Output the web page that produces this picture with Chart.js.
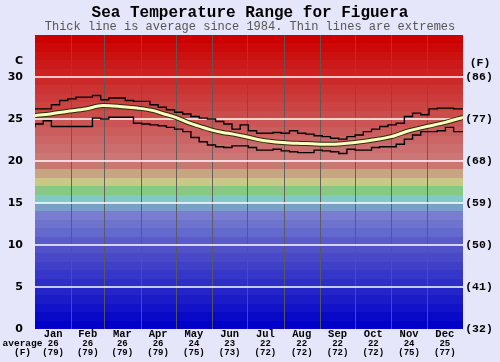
<!DOCTYPE html>
<html><head><meta charset="utf-8">
<script src="https://cdn.jsdelivr.net/npm/chart.js@4/dist/chart.umd.min.js"></script>
<style>html,body{margin:0;padding:0;background:#e6e6fa;}#wrap{width:500px;height:362px;position:relative;}</style>
</head><body><div id="wrap"><canvas id="c"></canvas></div>
<script>
// ---- data ----
const monthNames = ['Jan','Feb','Mar','Apr','May','Jun','Jul','Aug','Sep','Oct','Nov','Dec'];
const monthStartDays = [0,31,59,90,120,151,181,212,243,273,304,334,365];
const monthAvgC = [26,26,26,26,24,23,22,22,22,22,24,25];
const monthAvgF = [79,79,79,79,75,73,72,72,72,72,75,77];
const cTicks = [0,5,10,15,20,25,30];
const fTicks = [32,41,50,59,68,77,86];
// weekly extremes (one value per week, starting day 0, 7, 14 ...)
const weeklyMax = [26.2,26.2,26.2,26.7,27.2,27.4,27.6,27.6,27.8,27.3,
  27.5,27.5,27.2,27.1,27.1,26.7,26.4,26.1,25.8,25.6,
  25.3,25.1,25.0,24.7,24.4,23.8,24.3,23.6,23.3,23.3,
  23.4,23.3,23.6,23.3,23.2,23.0,22.9,22.7,22.6,22.9,
  23.1,23.5,23.8,24.1,24.3,24.5,25.3,25.7,25.5,26.2,
  26.3,26.3,26.2];
const weeklyMin = [24.0,24.4,24.8,24.1,24.1,24.1,24.1,24.1,25.1,25.0,
  25.2,25.2,25.2,24.5,24.4,24.3,24.2,24.0,23.8,23.5,
  22.8,22.3,21.9,21.7,21.6,21.8,21.8,21.6,21.3,21.3,
  21.4,21.2,21.1,21.0,21.0,21.3,21.2,21.1,20.9,21.4,
  21.3,21.3,21.6,21.7,21.7,22.0,22.6,23.1,23.5,23.5,
  23.6,24.0,23.5];
const avgDays = [0,13,27,43,58,72,87,101,110,120,132,141,150,160,169,178,189,200,211,224,236,246,256,266,276,288,304,319,334,350,365];
const avgTemp = [25.4,25.6,25.9,26.2,26.6,26.5,26.3,26.0,25.6,25.2,24.5,24.1,23.7,23.4,23.2,22.95,22.6,22.35,22.2,22.1,22.05,22.0,22.0,22.1,22.25,22.5,22.9,23.6,24.1,24.6,25.2];

// ---- build points ----
function weekly(arr){
  const pts = arr.map((v,i)=>({x:i*7,y:v}));
  pts.push({x:365,y:arr[arr.length-1]});
  return pts;
}
const avgPts = avgDays.map((d,i)=>({x:d,y:avgTemp[i]}));

function bandColor(i){
  if(i>=20){ const g=Math.max(0,Math.round(118*(34-i)/14)); return `rgb(204,${g},${g})`; }
  const fixed = {19:[200,120,110],18:[200,165,130],17:[200,200,135],16:[135,200,135],15:[130,200,200],
    14:[120,160,200],13:[120,125,210],12:[110,115,205],11:[100,105,205],10:[90,90,200]};
  if(fixed[i]) return `rgb(${fixed[i].join(',')})`;
  const v=9*i; return `rgb(${v},${v},200)`;
}

const bgPlugin = {
  id:'bg',
  beforeDatasetsDraw(chart){
    const {ctx, chartArea:a, scales:{x,y}} = chart;
    ctx.save();
    ctx.beginPath(); ctx.rect(a.left,a.top,a.right-a.left,a.bottom-a.top); ctx.clip();
    for(let i=0;i<35;i++){
      const y0=Math.round(y.getPixelForValue(i)), y1=Math.round(y.getPixelForValue(i+1));
      ctx.fillStyle=bandColor(i);
      ctx.fillRect(a.left,y1,a.right-a.left,y0-y1);
    }
    ctx.strokeStyle='rgba(90,90,90,0.9)'; ctx.lineWidth=1;
    monthStartDays.slice(1,-1).forEach(d=>{
      const px=Math.round(x.getPixelForValue(d))+0.5;
      ctx.beginPath(); ctx.moveTo(px,a.top); ctx.lineTo(px,a.bottom); ctx.stroke();
    });
    ctx.strokeStyle='#ffffff'; ctx.lineWidth=1.5;
    cTicks.slice(1).forEach(v=>{
      const py=Math.round(y.getPixelForValue(v));
      ctx.beginPath(); ctx.moveTo(a.left,py); ctx.lineTo(a.right,py); ctx.stroke();
    });
    ctx.restore();
  },
  afterDraw(chart){
    const {ctx, scales:{x,y}} = chart;
    ctx.save();
    ctx.textBaseline='middle';
    ctx.textAlign='center';
    ctx.fillStyle='#000';
    ctx.font='bold 16px "Liberation Mono"';
    ctx.fillText('Sea Temperature Range for Figuera',250,13);
    ctx.fillStyle='#555';
    ctx.font='12px "Liberation Mono"';
    ctx.fillText('Thick line is average since 1984. Thin lines are extremes',250,27);
    ctx.fillStyle='#000';
    // left axis
    ctx.textAlign='right';
    ctx.font='bold 11px "DejaVu Sans"';
    cTicks.forEach(v=>ctx.fillText(String(v),23,y.getPixelForValue(v)));
    ctx.fillText('C',23,61);
    // right axis
    ctx.textAlign='center';
    ctx.font='bold 11.5px "Liberation Mono"';
    fTicks.forEach((f,i)=>ctx.fillText('('+f+')',479,y.getPixelForValue(cTicks[i])));
    ctx.fillText('(F)',480,63);
    // bottom
    for(let m=0;m<12;m++){
      const cx=x.getPixelForValue((monthStartDays[m]+monthStartDays[m+1])/2);
      ctx.font='bold 10.5px "Liberation Mono"';
      ctx.fillText(monthNames[m],cx,334);
      ctx.font='bold 9px "Liberation Mono"';
      ctx.fillText(String(monthAvgC[m]),cx,344);
      ctx.fillText('('+monthAvgF[m]+')',cx,353);
    }
    ctx.font='bold 9.5px "Liberation Mono"';
    ctx.fillText('average',22.5,344);
    ctx.fillText('(F)',22.5,353);
    ctx.restore();
  }
};

new Chart(document.getElementById('c'),{
  type:'line',
  data:{datasets:[
    {label:'Max',data:weekly(weeklyMax),stepped:'after',borderColor:'#000',borderWidth:1.4,pointRadius:0,fill:false,order:3},
    {label:'Min',data:weekly(weeklyMin),stepped:'after',borderColor:'#000',borderWidth:1.4,pointRadius:0,fill:false,order:3},
    {label:'Average outline',data:avgPts,borderColor:'#2a2a10',borderWidth:5,pointRadius:0,cubicInterpolationMode:'monotone',fill:false,order:2},
    {label:'Average',data:avgPts,borderColor:'#ffffc0',borderWidth:3,pointRadius:0,cubicInterpolationMode:'monotone',fill:false,order:1}
  ]},
  options:{
    animation:false,responsive:true,maintainAspectRatio:false,
    layout:{padding:{left:35,right:37,top:35,bottom:33}},
    plugins:{legend:{display:false},tooltip:{enabled:false}},
    scales:{
      x:{type:'linear',min:0,max:365,display:false},
      y:{min:0,max:35,display:false}
    }
  },
  plugins:[bgPlugin]
});
</script>
</body></html>
